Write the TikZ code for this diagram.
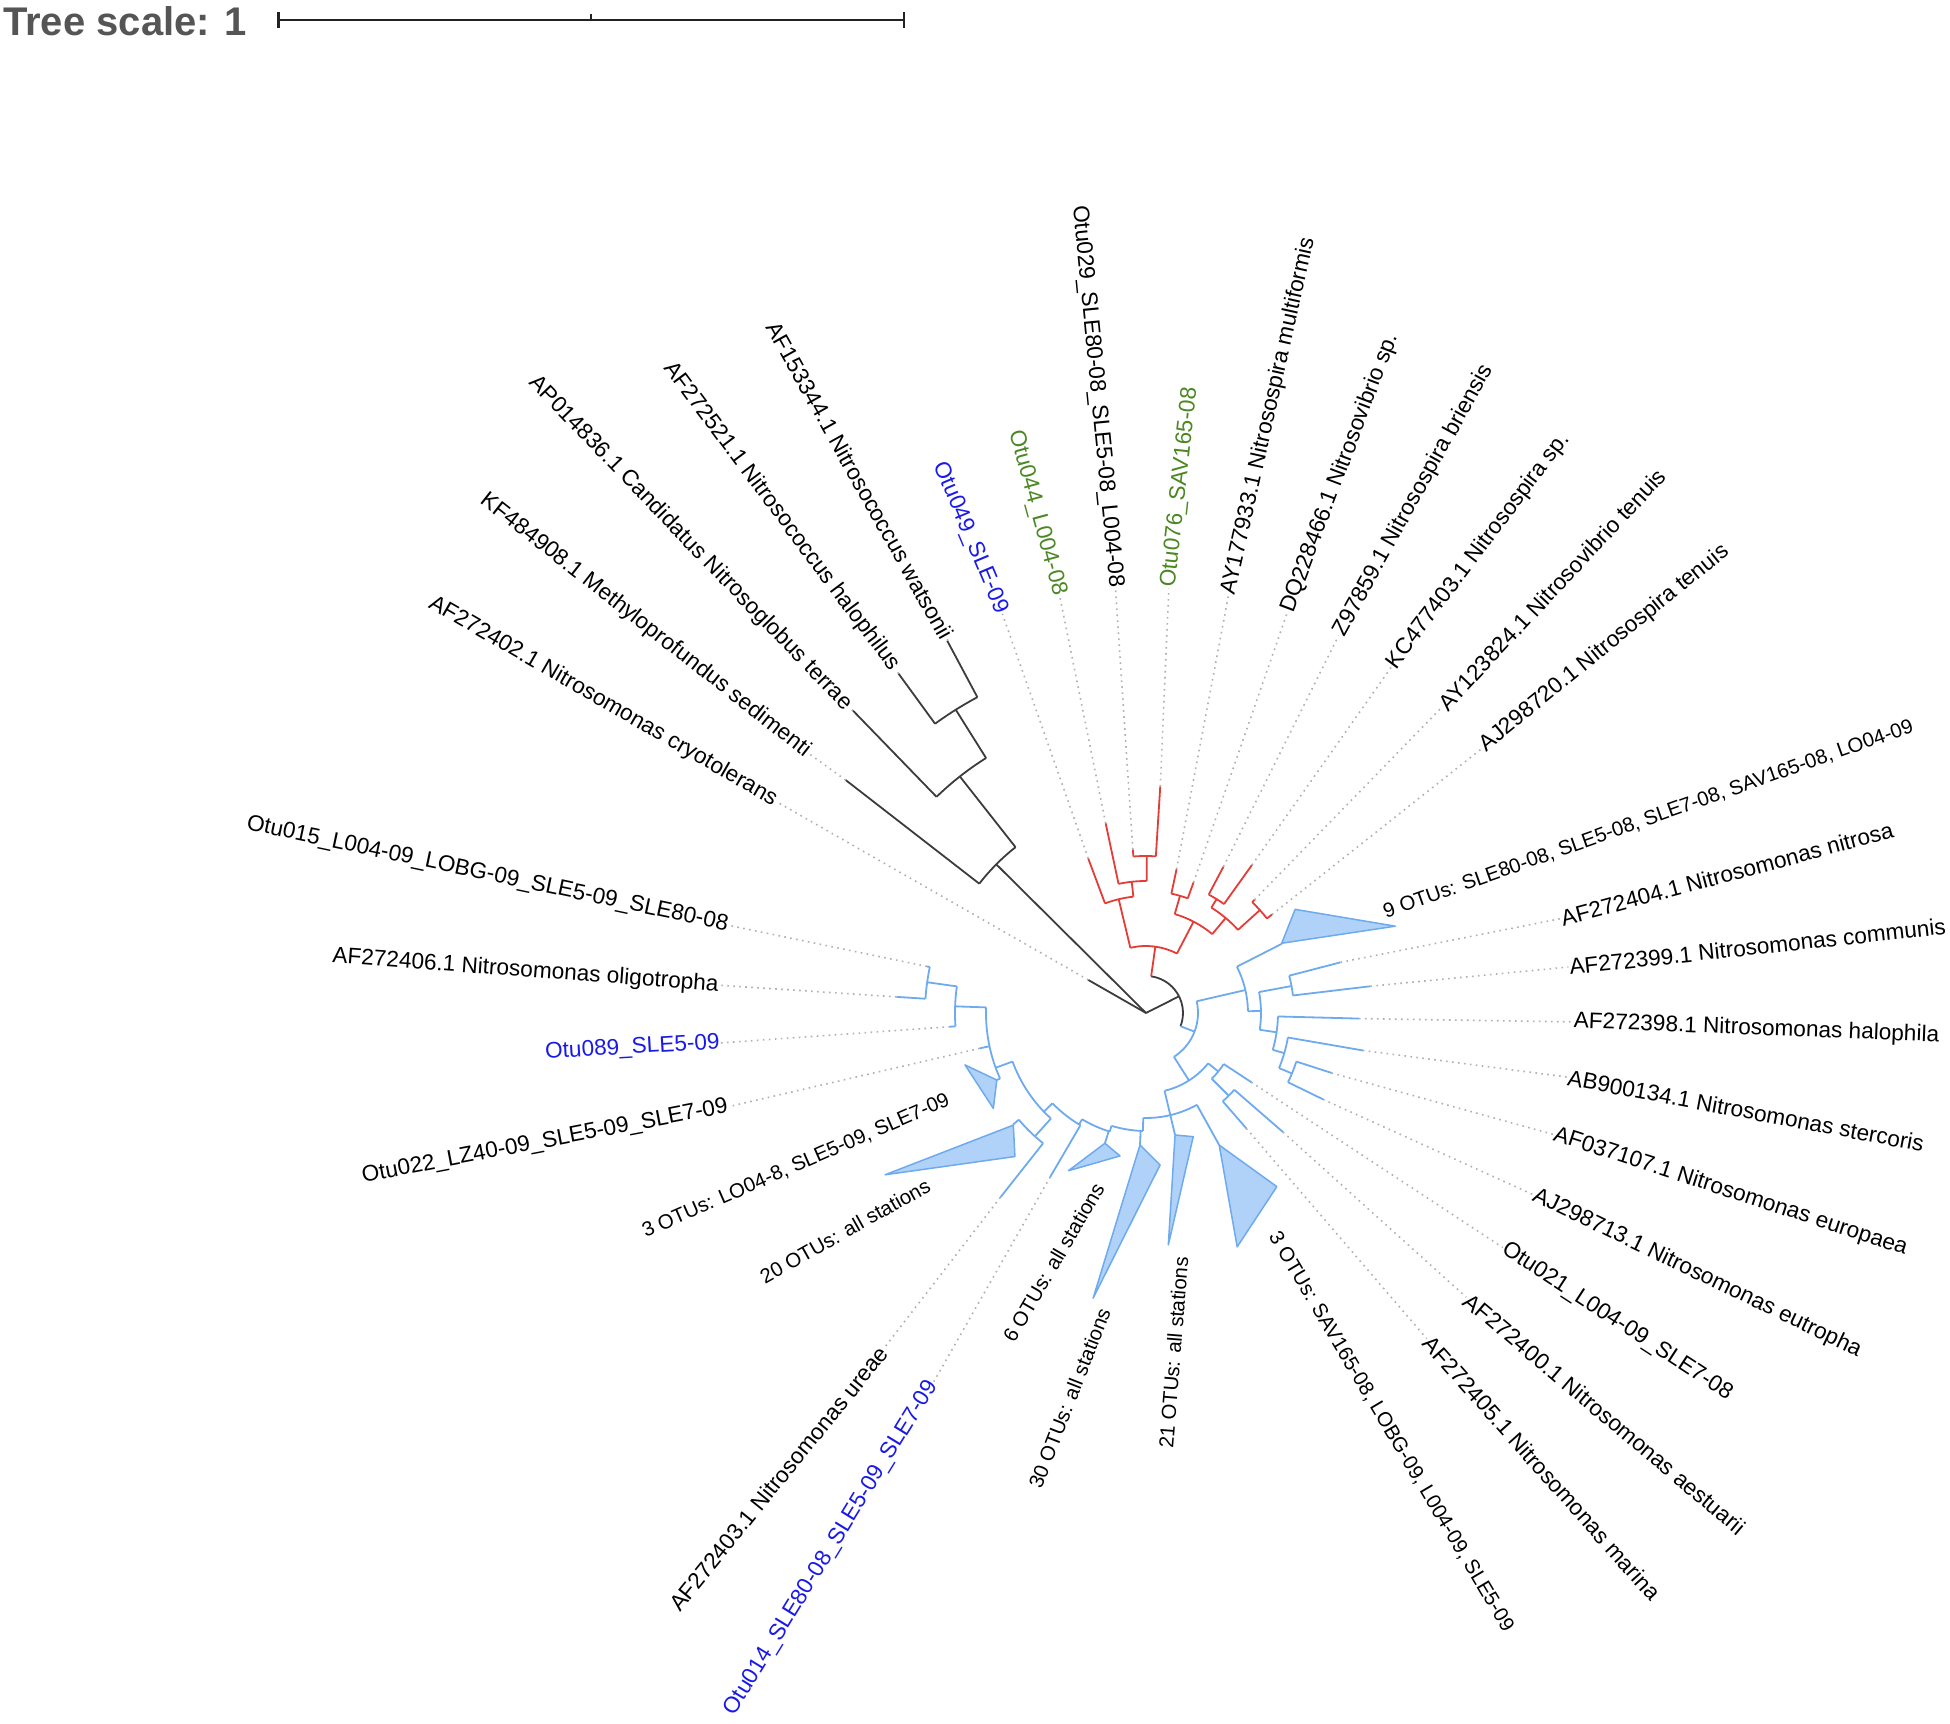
\documentclass[tikz,border=0pt]{standalone}
\usepackage{fontspec}
\setmainfont{Liberation Sans}
\definecolor{brBlack}{RGB}{60,60,60}
\definecolor{brRed}{RGB}{228,60,55}
\definecolor{brBlue}{RGB}{110,170,238}
\definecolor{triFill}{RGB}{176,210,248}
\definecolor{labBlue}{RGB}{25,25,235}
\definecolor{labGreen}{RGB}{75,135,35}
\definecolor{leadGray}{RGB}{175,175,175}
\definecolor{titleGray}{RGB}{85,85,85}
\definecolor{barDark}{RGB}{34,34,34}
% radial branch: style, angle, r1, r2
\newcommand\tbr[4]{\draw[#1] (#2:#3) -- (#2:#4);}
% arc: style, radius, a1, a2
\newcommand\tarc[4]{\draw[#1] (#3:#2) arc[start angle=#3, end angle=#4, radius=#2pt];}
% labels: name, tip angle, tip radius, position, rotation, text, style
\newcommand\rlab[7]{\coordinate (t#1) at (#2:#3);
  \node[#7, rotate=#5] (l#1) at (#4) {#6};
  \draw[lead] (t#1) -- (l#1.west);}
\newcommand\llab[7]{\coordinate (t#1) at (#2:#3);
  \node[#7, rotate=#5] (l#1) at (#4) {#6};
  \draw[lead] (t#1) -- (l#1.east);}
\begin{document}
\begin{tikzpicture}[x=1pt,y=1pt,
  brk/.style={draw=brBlack, line width=1.8pt, line join=round},
  brr/.style={draw=brRed, line width=1.8pt, line join=round},
  brb/.style={draw=brBlue, line width=1.8pt, line join=round},
  tri/.style={draw=brBlue, fill=triFill, line width=1.5pt, line join=round},
  lead/.style={draw=leadGray, line width=1.6pt, dash pattern=on 1.6pt off 4.4pt},
  lab/.style={font=\fontsize{22.6}{26}\selectfont, inner sep=1pt},
  slab/.style={font=\fontsize{20.4}{24}\selectfont, inner sep=1pt},
  sbar/.style={draw=barDark, line width=2.5pt},
]
\useasboundingbox (-1146,-710) rectangle (804,1013);

% ---- title and scale bar
\node[anchor=base west, inner sep=0, text=titleGray,
      font=\bfseries\fontsize{40}{44}\selectfont] (title) at (-1143,977) {Tree scale: 1};
\coordinate (sbL) at (-867.4,993);
\coordinate (sbR) at (-242,993);
\coordinate (sbM) at (-555,993);
\draw[sbar] (sbL) -- (sbR);
\draw[sbar] ([yshift=8]sbL) -- ([yshift=-8]sbL);
\draw[sbar] ([yshift=8]sbR) -- ([yshift=-8]sbR);
\draw[sbar] ([yshift=6]sbM) -- (sbM);

% ---- black part
\coordinate (root) at (0,0);
\draw[brk] (root) -- (135.2:211);
\tarc{brk}{211}{142.2}{128.2}
\tbr{brk}{142.2}{211}{380}
\tbr{brk}{128.2}{211}{301}
\tarc{brk}{301}{134.1}{122.1}
\tbr{brk}{134.1}{301}{421}
\tbr{brk}{122.1}{301}{358}
\tarc{brk}{358}{126.1}{118.1}
\tbr{brk}{126.1}{358}{420}
\tbr{brk}{118.1}{358}{422}
\draw[brk] (root) -- (150.2:66.5);
\draw[brk] (root) -- (26.8:37);
\tarc{brk}{37}{-21}{82}

% ---- red clade
\tbr{brr}{82}{37}{67}
\tarc{brr}{67}{62.5}{103.5}
\tbr{brr}{103.5}{67}{117}
\tarc{brr}{117}{96.2}{110.5}
\tbr{brr}{110.5}{117}{165}
\tbr{brr}{96.2}{117}{132}
\tarc{brr}{132}{89.7}{102}
\tbr{brr}{102}{132}{194}
\tbr{brr}{89.7}{132}{157}
\tarc{brr}{157}{86.4}{94.6}
\tbr{brr}{94.6}{157}{164}
\tbr{brr}{86.4}{157}{227}
\tbr{brr}{62.5}{67}{103}
\tarc{brr}{103}{50}{73.8}
\tbr{brr}{73.8}{103}{122}
\tarc{brr}{122}{70}{78}
\tbr{brr}{78}{122}{147}
\tbr{brr}{70}{122}{139}
\tbr{brr}{50}{103}{124}
\tarc{brr}{124}{42.1}{58.2}
\tbr{brr}{58.2}{124}{134}
\tarc{brr}{134}{54.4}{62.1}
\tbr{brr}{62.1}{134}{165.5}
\tbr{brr}{54.4}{134}{182}
\tbr{brr}{42.1}{124}{153.5}
\tarc{brr}{153.5}{38}{46.2}
\tbr{brr}{46.2}{153.5}{157}
\tbr{brr}{38}{153.5}{160}

% ---- blue clade
\tbr{brb}{-21}{37}{52}
\tarc{brb}{52}{-57.5}{13}
% right part
\tbr{brb}{13}{52}{102}
\tarc{brb}{102}{1}{27}
\tbr{brb}{27}{102}{152.6}
\draw[tri] (27.2:152.6) -- (34.8:181.6) -- (19.2:264) -- cycle;
\tbr{brb}{1}{102}{115}
\tarc{brb}{115}{-8.4}{10.5}
\tbr{brb}{10.5}{115}{148}
\tarc{brb}{148}{6.8}{14.6}
\tbr{brb}{14.6}{148}{201}
\tbr{brb}{6.8}{148}{226}
\tbr{brb}{-8.4}{115}{132}
\tarc{brb}{132}{-16.2}{-1.5}
\tbr{brb}{-1.5}{132}{213}
\tbr{brb}{-16.2}{132}{144}
\tarc{brb}{144}{-22.5}{-9.8}
\tbr{brb}{-9.8}{144}{220}
\tbr{brb}{-22.5}{144}{158}
\tarc{brb}{158}{-26}{-17.9}
\tbr{brb}{-17.9}{158}{195}
\tbr{brb}{-26}{158}{197}
% lower part
\tbr{brb}{-57.5}{52}{80}
\tarc{brb}{80}{-76.6}{-39}
\tbr{brb}{-39}{80}{93}
\tarc{brb}{93}{-45}{-33.3}
\tbr{brb}{-33.3}{93}{126}
\tbr{brb}{-45}{93}{117}
\tarc{brb}{117}{-49}{-41}
\tbr{brb}{-41}{117}{181.5}
\tbr{brb}{-49}{117}{153}
\tbr{brb}{-76.6}{80}{105}
\tarc{brb}{105}{-91.5}{-61}
\tbr{brb}{-61}{105}{151}
\draw[tri] (-61:151) -- (-68.7:251) -- (-53:217.4) -- cycle;
\tbr{brb}{-76.6}{105}{125.4}
\draw[tri] (-76.6:125.4) -- (-69.1:132.4) -- (-84.5:233) -- cycle;
\tbr{brb}{-91.5}{105}{118}
\tarc{brb}{118}{-107}{-91.5}
\tbr{brb}{-92.6}{118}{132}
\draw[tri] (-92.6:132) -- (-84.7:152.6) -- (-100.5:290) -- cycle;
\tbr{brb}{-107}{118}{124}
\tarc{brb}{124}{-121}{-107}
\tbr{brb}{-107.5}{124}{136.6}
\draw[tri] (-107.5:136.6) -- (-100.3:145.3) -- (-116.2:175.8) -- cycle;
\tbr{brb}{-121}{124}{130}
\tarc{brb}{130}{-136}{-120.3}
\tbr{brb}{-120.3}{130}{190}
\tbr{brb}{-136}{130}{142}
\tarc{brb}{142}{-160}{-132}
\tbr{brb}{-132}{142}{166}
\tarc{brb}{166}{-140}{-128.3}
\tbr{brb}{-128.3}{166}{235}
\tbr{brb}{-140}{166}{173.7}
\draw[tri] (-139.8:173.7) -- (-132.4:194.4) -- (-148.2:307) -- cycle;
\tbr{brb}{-160}{142}{160}
\tarc{brb}{160}{-182}{-155.8}
\tbr{brb}{-155.8}{160}{163.6}
\draw[tri] (-155.8:163.6) -- (-164:188.3) -- (-148:180) -- cycle;
\tbr{brb}{-168}{160}{170}
\tbr{brb}{-182}{160}{191}
\tarc{brb}{191}{-188}{-176}
\tbr{brb}{-176}{191}{196.5}
\tbr{brb}{-188}{191}{221}
\tarc{brb}{221}{-192}{-183.7}
\tbr{brb}{-192}{221}{224}
\tbr{brb}{-183.7}{221}{250}

% ---- labels, right side
\rlab{AB9}{-9.8}{220}{600,-97.5}{-10.6}{AB900134.1 Nitrosomonas stercoris}{lab}
\rlab{AF0}{-17.9}{195}{584.5,-179}{-18}{AF037107.1 Nitrosomonas europaea}{lab}
\rlab{AJ2}{-26}{197}{551,-260.5}{-25.7}{AJ298713.1 Nitrosomonas eutropha}{lab}
\rlab{O21}{-33.3}{126}{471,-309}{-33.1}{Otu021\_L004-09\_SLE7-08}{lab}
\rlab{A400}{-41}{181.5}{459,-401}{-40.1}{AF272400.1 Nitrosomonas aestuarii}{lab}
\rlab{A405}{-49}{153}{396,-455}{-48.3}{AF272405.1 Nitrosomonas marina}{lab}
\rlab{A398}{-1.5}{213}{610.5,-16}{-2.2}{AF272398.1 Nitrosomonas halophila}{lab}
\rlab{A399}{6.8}{226}{611.5,66.5}{6.2}{AF272399.1 Nitrosomonas communis}{lab}
\rlab{A404}{14.6}{201}{581,139}{15}{AF272404.1 Nitrosomonas nitrosa}{lab}
\rlab{AJ7}{38}{160}{458.5,364.5}{39.2}{AJ298720.1 Nitrosospira tenuis}{lab}
\rlab{AY1}{46.2}{157}{406,423.5}{46.9}{AY123824.1 Nitrosovibrio tenuis}{lab}
\rlab{KC4}{54.4}{182}{332.5,462}{53.1}{KC477403.1 Nitrosospira sp.}{lab}
\rlab{Z97}{62.1}{165.5}{267.5,512.5}{61}{Z97859.1 Nitrosospira briensis}{lab}
\rlab{DQ2}{70}{139}{194,540}{69.3}{DQ228466.1 Nitrosovibrio sp.}{lab}
\rlab{AY7}{78}{147}{122.5,596.5}{77.4}{AY177933.1 Nitrosospira multiformis}{lab}
\rlab{O76}{86.4}{227}{34,525.5}{83.7}{Otu076\_SAV165-08}{lab,text=labGreen}

% ---- labels, left side
\llab{O29}{94.6}{164}{-49,616.5}{-84.5}{Otu029\_SLE80-08\_SLE5-08\_L004-08}{lab}
\llab{O44}{102}{194}{-109,500}{-74.7}{Otu044\_L004-08}{lab,text=labGreen}
\llab{O49}{110.5}{165}{-175.5,475}{-67.2}{Otu049\_SLE-09}{lab,text=labBlue}
\llab{A153}{118.1}{422}{-286,532.5}{-60.8}{AF153344.1 Nitrosococcus watsonii}{lab}
\llab{A521}{126.1}{420}{-364.5,496.5}{-53.2}{AF272521.1 Nitrosococcus halophilus}{lab}
\llab{AP0}{134.1}{421}{-455.5,469.5}{-46}{AP014836.1 Candidatus Nitrosoglobus terrae}{lab}
\llab{KF4}{142.2}{380}{-500.5,387.5}{-38.1}{KF484908.1 Methyloprofundus sedimenti}{lab}
\llab{A402}{150.2}{66.5}{-543,311.5}{-30}{AF272402.1 Nitrosomonas cryotolerans}{lab}
\llab{O15}{-192}{224}{-658.5,138.5}{-11.9}{Otu015\_L004-09\_LOBG-09\_SLE5-09\_SLE80-08}{lab}
\llab{A406}{-183.7}{250}{-620.5,42}{-4.2}{AF272406.1 Nitrosomonas oligotropha}{lab}
\llab{O89}{-176}{196.5}{-513.5,-35}{3.3}{Otu089\_SLE5-09}{lab,text=labBlue}
\llab{O22}{-168}{170}{-601,-129}{10.9}{Otu022\_LZ40-09\_SLE5-09\_SLE7-09}{lab}
\llab{A403}{-128.3}{235}{-367.5,-465.5}{51}{AF272403.1 Nitrosomonas ureae}{lab}
\llab{O14}{-120.3}{190}{-314.5,-535}{58.4}{Otu014\_SLE80-08\_SLE5-09\_SLE7-09}{lab,text=labBlue}

% ---- collapsed-clade labels
\node[slab, rotate=19.5] (c9) at (502.5,193.5) {9 OTUs: SLE80-08, SLE5-08, SLE7-08, SAV165-08, LO04-09};
\node[slab, rotate=-59.3] (c3b) at (245,-419) {3 OTUs: SAV165-08, LOBG-09, L004-09, SLE5-09};
\node[slab, rotate=85.4] (c21) at (27.5,-339.5) {21 OTUs: all stations};
\node[slab, rotate=68.6] (c30) at (-76.5,-385) {30 OTUs: all stations};
\node[slab, rotate=59.7] (c6) at (-92.5,-249.5) {6 OTUs: all stations};
\node[slab, rotate=29.3] (c20) at (-301,-218) {20 OTUs: all stations};
\node[slab, rotate=23.6] (c3a) at (-350,-153) {3 OTUs: LO04-8, SLE5-09, SLE7-09};
\end{tikzpicture}
\end{document}
